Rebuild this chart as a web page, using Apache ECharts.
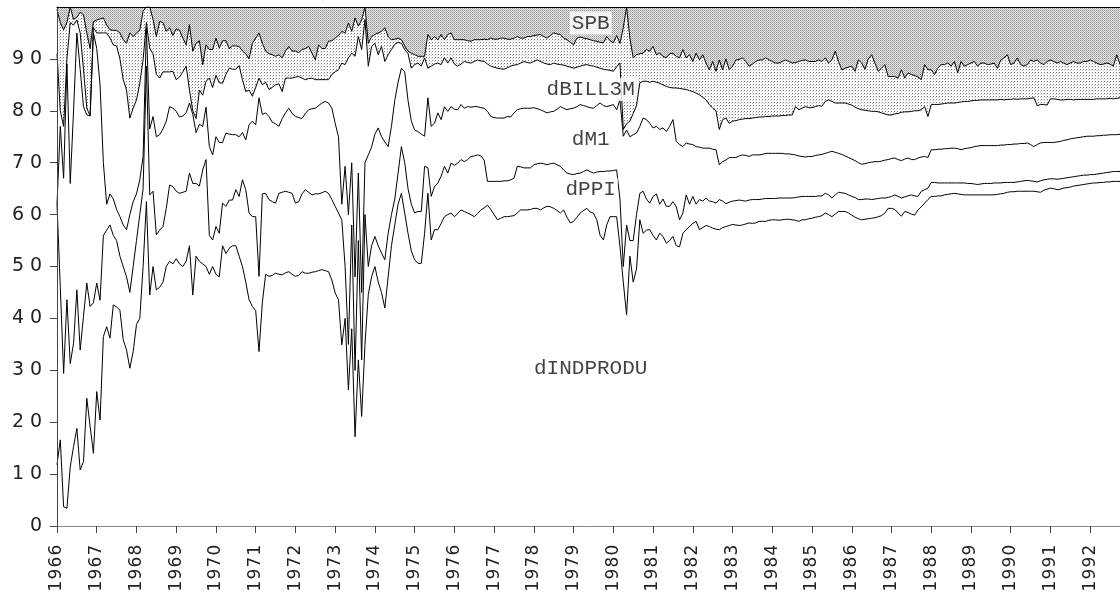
<!DOCTYPE html>
<html><head><meta charset="utf-8">
<script src="https://cdn.jsdelivr.net/npm/echarts@6/dist/echarts.min.js"></script>
<style>html,body{margin:0;padding:0;background:#fff}#c{width:1120px;height:599px}</style>
</head><body><div id="c"></div>
<script>
// Monthly observations, 1966m1 .. 1992m10 (cumulative shares, %)
const startYear = 1966;
const yTickLabels = [0,10,20,30,40,50,60,70,80,90];

const cumINDPRODU = [
11.8,16.6,3.7,3.4,11.4,15.3,18.8,10.8,12.4,24.6,19.2,14,
25.9,20.4,36.5,38.4,36.2,42.6,42.2,41.6,35.9,33.9,30.4,33.6,
38.8,40,50,62.5,44.5,50,45.5,46,47,50,51,50.5,
51.5,50.5,50,51,54,44.5,52,51,50.5,50,48.5,50,
48.5,48,54,52.5,53.5,54,54,52,50,47,43.6,42.3,
41.5,33.6,43,48.5,48.1,48.3,48.7,48.5,48.4,48.8,49,48.5,
48.1,48.3,49,48.7,48.7,48.9,49,49.2,49.4,49.2,49,47.4,
44.9,43.6,34.9,40,26.2,38,17.2,32,21.1,35,44.6,48,
50,47,45,42,48,54,58,62,64.1,60.3,56.4,53,
51.3,50.6,50.6,56.4,64.1,55.1,57.1,57.1,58.3,59.6,60,60.3,
59.6,60.2,60.9,60.6,60.3,60,59.6,60.2,60.9,61.3,61.8,61,
60,59,59.3,59.6,59.6,59.7,59.8,60.3,60.9,60.9,60.9,61,
61.2,61.2,60.9,61.3,61.6,61.5,61.2,60.8,60.3,60.9,59.5,58.4,
58.7,59.5,60.3,60.8,61.2,60.5,60.3,59,56,55.1,58,59.6,
59.6,59.6,53.9,47,40.7,52,47,49.5,59,56.4,57,57.1,
56,55.1,56.4,55.8,54.5,55,55.8,54,53.8,56.4,57.1,57.7,
58.3,58.7,57.1,57.5,57.9,57.7,57.4,57.2,57.1,57.5,57.7,57.9,
58.1,58,57.9,58,58.2,58.4,58.3,58.4,58.7,58.7,58.7,58.9,
59,59,58.9,59,59.1,59.1,59,58.9,58.7,59,59,59.2,
59.3,59.5,59.6,59.8,60.3,60,59.6,60.1,60.6,60.6,60.6,60.3,
59.9,59.5,59.2,59,59.1,59.2,59.3,59.4,59.6,59.8,60.3,61.2,
61.2,61,60.3,59.7,60.6,60.4,60.1,59.9,60.9,61.5,62.2,62.9,
63.5,63.5,63.6,63.6,63.8,63.9,64,64.1,64,63.9,63.8,63.8,
63.8,63.8,63.8,63.8,63.8,63.8,63.8,63.8,63.9,64,64.1,64.3,
64.4,64.4,64.5,64.5,64.5,64.5,64.5,64.5,64.4,64.3,64.7,64.9,
65.1,65,64.8,64.9,65.1,65.2,65.3,65.5,65.6,65.7,65.8,65.9,
66,66.1,66.1,66.2,66.2,66.3,66.3,66.4,66.4,66.4
];

const cumPPI = [
62,46,29.4,43.6,31.3,35.2,45.5,33.9,40.4,46.8,42.3,43,
46.8,43.5,56,57,58,56,55,52,50,48,45,50,
55,60,65,88.6,63.8,64.5,56.1,57,57.7,61.2,65.7,65.4,
64.5,64.1,64.3,64.5,68,66,66,65.5,68.6,70.6,56,55.1,
57.7,56.4,62.2,61.6,62.8,62.8,64.8,63.5,66.7,64.8,60.3,59.6,
59.6,48.1,64,64.1,62.9,62.5,62.2,64.1,64.3,64.5,64.3,64.1,
62.2,62.5,64,64.8,64.3,63.8,64,64,64.2,64.5,64.1,62.9,
61.6,60.3,59,50,35,58,30,55,32,60,50,54,
55.8,54,52.6,51.3,56.4,60,63,68,73.1,70,65,62,
60.3,60.6,60.6,69.3,69,63.5,65.4,66.1,67.4,69.3,68,69.9,
69.5,69.9,70.6,70.2,70.6,71.2,71.3,71.5,71.3,70.5,66.4,66.4,
66.4,66.4,66.4,66.5,66.5,66.7,67,69.3,69.2,69,69,69,
69.6,69.8,69.9,69.8,69.6,69.8,69.9,69.6,69.3,68.6,68,67.8,
67.7,67.9,68,68.3,68.6,68.3,68,68.2,68.3,68.3,68.4,68.4,
68.5,68.6,63,50,58,55,55,60,64.1,64.5,63,62.2,
63.5,64,62,63,61.6,61.6,62.5,61.5,59,60.3,63.8,62,
63.5,62,62.9,62.6,63.2,62.6,62.5,62.2,62.9,62.6,62.1,62.4,
62.6,62.7,62.8,62.7,62.6,62.8,62.9,62.9,62.9,63,63.1,63.1,
63.1,63.1,63.2,63.2,63.2,63.2,63.2,63.3,63.4,63.5,63.5,63.5,
63.5,63.5,63.6,63.6,64.1,63.8,63.2,63.8,64.3,64.2,64.1,63.8,
63.5,63.3,62.9,62.9,63,63,62.9,63,63.1,63.2,63.2,63.3,
63.5,63.8,63.5,63.2,63.4,63.6,63.8,63.6,63.5,64.5,64.8,65.1,
66.2,66.2,66.1,66.1,66.1,66.1,66.1,66.1,66.1,66.1,66.1,66,
66,65.9,65.8,65.9,66,66,66,66.1,66.1,66.1,66.2,66.2,
66.2,66.2,66.3,66.4,66.5,66.6,66.5,66.4,66.3,66.5,66.7,66.8,
66.9,66.9,66.8,66.9,67,67.1,67.2,67.3,67.4,67.5,67.6,67.6,
67.7,67.7,67.8,67.9,68,68.1,68.2,68.3,68.3,68.3
];

const cumM1 = [
62,77,67,89,66,80,95,88,80.8,79.2,79,95,
92,85,70,62,64,63,61,59.6,58,57.1,60,62.5,
64,66.7,71.2,96,76.5,78.9,75,75.4,76.5,78,80.8,80.5,
79.9,78.8,79,79.6,81.5,79.3,75.8,77.4,77,80.7,73.1,71.5,
75,73.9,73.9,75.7,75.5,75.4,75.4,75,75.8,74.4,77.3,78,
77.3,82.5,79.3,79.6,78.9,77.8,77.5,77,78.5,79.6,80.5,79.5,
78.9,78.7,78.5,79.5,80.2,80.4,80.5,81,81.5,81.8,81.5,80.5,
77.6,75,62,69.3,60,70,48,68,45,70,71.5,73,
75.5,76.7,75,74,73.1,77,82,85.5,88.2,87.5,82,78,
76.3,76,75.5,75.1,82.5,77,77.6,79.6,78.3,80.8,79.9,80.8,
80.3,80.2,81.2,80.5,80.8,80.7,80.8,80.8,80.6,80.5,79.9,78.9,
78.7,78.6,78.6,78.6,78.9,78.8,79.6,80.2,80.4,80.5,80.5,80.5,
80.6,80.4,80.2,79.9,79.6,79.8,79.9,80.3,80.8,80.5,80.2,80.4,
80.5,80.8,81.2,81,80.8,80.6,80.5,81,81.5,81,80.8,81,
81.2,80.2,82.1,75.1,76.3,75,75.4,75.7,77,78.6,78.3,77.6,
76.7,77,76.4,76.7,76,77,78.3,74.1,73.5,73.1,73.8,73.6,
73.5,73.1,73,72.8,72.8,72.8,72.6,72.5,69.6,70.2,70.5,71,
71,71,71.3,71.5,71.4,71.2,71.5,71.5,71.5,71.6,71.8,71.8,
71.8,71.8,71.8,71.8,71.7,71.7,71.6,71.5,71.3,71.2,71.1,71.2,
71.2,71.4,71.5,71.6,71.8,72,72.2,72,71.8,71.6,71.3,71,
70.7,70.4,70,69.7,69.8,70,70.1,70.2,70.2,70.3,70.5,70.6,
70.8,70.9,70.6,70.4,70.7,70.9,70.6,70.6,70.9,71.1,71.2,71,
72.5,72.5,72.6,72.6,72.7,72.7,72.8,72.8,72.7,72.5,72.7,72.8,
72.9,73.1,73.2,73.3,73.3,73.3,73.3,73.3,73.3,73.4,73.4,73.5,
73.5,73.6,73.6,73.7,73.7,73.8,73.5,73.1,73.5,73.8,73.9,73.9,
73.9,73.9,74,74.1,74.3,74.4,74.6,74.7,74.8,74.9,75,75.1,
75.1,75.1,75.2,75.2,75.3,75.3,75.4,75.4,75.4,75.5
];

const cumBILL3M = [
91,80,77,90,97,96.5,97.5,95,88,80.5,79,96,
95,95,95,95,94,92.7,92.5,90,86,84,78.6,80.5,
82.1,85.3,89.8,97,92,91,87,86.3,87.5,87.5,87.5,87.6,
86,86.5,87.5,88.6,84,80,78.5,84,83,85.7,86.3,84.5,
86.8,85.4,85.3,87,88.2,88,88,88.7,86,83.7,84,82.8,
84.5,86.3,85,85.5,84.1,84.5,85,85.2,83.7,86.3,86.3,86.3,
86.5,86.6,86.3,86,86.2,86.3,86,86,86,86,86,87,
87.5,87.9,89.2,88.9,90.2,91.1,90.5,94.3,91.8,97.6,88.6,92.4,
93,90.8,92.4,89.5,90.8,91.8,92.8,93.2,93,91.8,91,88.2,
88.9,89.2,88.6,90.2,88.2,88.6,89,89.2,88.9,90.2,89.2,90.2,
89,88.6,89,89.5,89.3,89.2,89.5,89.8,89.6,89.5,89,88.6,
88.4,88.2,88.1,88,88.3,88.6,88.8,88.9,89.2,89.5,89.3,89.2,
89.5,89.8,89.5,89.2,89,88.9,89.2,89,88.9,88.8,88.6,88.4,
88.2,88.4,88.6,88.8,88.9,88.7,88.6,88.4,88.2,88,87.9,87.8,
87.6,88.5,89.2,76.4,77.5,78,79.5,81,85.4,85.7,85.7,85.5,
85.7,85.5,85.3,85,84.7,84.5,84.4,84.4,84.3,84.2,84.1,83.9,
83.7,83.4,83.1,82.6,82.1,81.2,80.5,80,76.4,78.3,78.6,77.6,
78,78.1,78.3,78.4,78.5,78.5,78.6,78.7,78.8,78.8,78.9,78.9,
79,79,79,79.1,79.1,79.2,79.2,80.8,80.2,80.5,80.8,80.6,
80.6,80.8,81,80.9,81.8,82.1,81.8,81.5,81.5,81.5,81.5,81.3,
81.1,80.7,80.4,80.2,80.1,80,79.9,79.9,79.8,79.6,79.4,79.2,
79.2,79.4,79.5,79.7,79.8,79.8,79.9,80,80,80.2,80.8,78.9,
81.2,81.2,81.2,81.3,81.4,81.5,81.5,81.5,81.6,81.7,81.8,81.8,
81.9,82,82,82.1,82.1,82.1,82.1,82.1,82.1,82.2,82.1,82.2,
82.2,82.3,82.2,82.3,82.3,82.3,82.4,82.5,81,81.2,81.2,81.1,
82.3,82.3,82.2,82.1,82.1,82.2,82.2,82.1,82.2,82.2,82.2,82.2,
82.2,82.2,82.3,82.3,82.3,82.3,82.4,82.3,82.4,82.5
];

// upper edge of the un-named dotted band (below the SPB block)
const cumV5 = [
99.5,97,95.6,97,100,97.6,98,99,98.5,95,92,97.2,
97.5,97.7,97.9,96.5,95.6,95.5,95.5,95,93.7,93,95,94.3,
95,95.5,99.2,100,100,97.6,94.3,97.2,97,95.3,96,94.5,
95.8,95.5,94,92.7,96.6,91.5,93,93.5,88.9,92.7,91.8,91.8,
94,92.1,93.5,93.5,92,92.5,92.5,92.4,91.5,91,90,93,
94,95,93,91.5,91,90.8,90.5,90.8,90.2,91.5,92.4,91.5,
91.5,91.2,91.8,92,92.4,91.1,89.8,92.7,92,92,93.4,93.5,
94,94.5,95.3,95,96.9,95.3,97.9,96.3,97.5,100,93,94.3,
94.7,95,95.3,96,94.3,93.7,93.8,94,93.7,92.5,91.5,91.1,
90.8,90.5,90.5,90.5,94.7,93.7,94.3,93.7,94.7,93.7,94.7,95,
93.7,93.7,93.7,93.7,93.5,93.4,93.7,93.7,93.7,93.8,93.7,94,
93.8,93.8,94,94,93.8,93.8,94,94.3,94,94,94.3,94.3,
94.5,94.6,94.7,94.3,94,94.5,95,94.8,94.7,94,93.7,93.2,
92.7,94,94.2,94,93.9,93.7,93.5,93.4,93.2,93.1,94.3,93.5,
93.1,94.5,93,96,100,94,90.2,90.8,91,91.1,91.8,91.5,
92.4,90.8,91.1,90.5,90.2,91,91.1,90.5,90.2,91.8,90.2,90.8,
89.5,91.1,89.8,90.8,89.2,87.9,89.5,87.6,89.8,87.9,90,87.9,
88.6,89.8,89.9,90.2,89.5,88.6,89,89.5,89.8,89.8,90.2,89.8,
89.5,89.2,89.2,89.5,89.8,89.5,89.2,89.3,89.5,89.7,89.8,89.5,
89.5,89.5,89.8,89.5,90.2,89.2,89.8,91.5,89.5,87.9,88.2,88.4,
88.6,87.6,89.8,89.2,88,90,90.8,89.2,87.6,88.2,88.9,86.6,
86.6,86.6,86.3,87.9,86.3,87.3,87,86.8,86.5,86,88.9,87.9,
87.9,87,88.2,88.9,88.9,89.2,88.6,89.5,87.3,89.5,88.6,88.9,
89.2,89.5,88.6,89.2,89.2,88.9,89,89.2,88.2,89.8,90.2,90.8,
88.9,89.2,90.2,88.9,88.6,88.9,89.8,89.5,89.8,89.2,88.9,89.5,
89.8,89.5,89.2,89.5,89.2,88.9,89.2,89.5,89.2,89.2,89.5,89.5,
89.8,89.5,89.2,88.9,89,89.2,89,88.6,90.8,88.9
];

const labelNames  = ['SPB', 'dBILL3M', 'dM1', 'dPPI', 'dINDPRODU'];
const labelLevels = [96.9, 84.1, 74.4, 64.8, 30.3];
const labelYear   = 1979.43;

const all = [cumINDPRODU, cumPPI, cumM1, cumBILL3M, cumV5];
const n = cumINDPRODU.length;
all.forEach((a, k) => { if (a.length !== n) throw new Error('length mismatch ' + k + ': ' + a.length + ' vs ' + n); });
const months = Array.from({length: n}, (_, i) => startYear + i / 12);
const pairs = arr => arr.map((v, i) => [months[i], v]);
const total = cumINDPRODU.map(() => 100);

function pattern(size, bg, dots) {
  const c = document.createElement('canvas');
  c.width = size; c.height = size;
  const g = c.getContext('2d');
  g.fillStyle = bg; g.fillRect(0, 0, size, size);
  dots.forEach(([x, y, col]) => { g.fillStyle = col; g.fillRect(x, y, 1, 1); });
  return { image: c, repeat: 'repeat' };
}
const densePat = pattern(2, '#e8e8e8', [[0, 0, '#959595'], [1, 1, '#b0b0b0']]);
const lightPat = pattern(3, '#ffffff', [[0, 0, '#7a7a7a'], [2, 1, '#d0d0d0']]);

function areaS(data, fill) {
  return { type: 'line', data: pairs(data), symbol: 'none', silent: true, animation: false,
    lineStyle: { opacity: 0, width: 0 }, areaStyle: { color: fill, opacity: 1 }, z: 1 };
}
function lineS(name, data) {
  return { type: 'line', name, data: pairs(data), symbol: 'none', silent: true, animation: false,
    lineStyle: { color: '#000', width: 1 }, z: 3 };
}
const charRich = (w, size) => ({ d: { width: w, align: 'center', fontSize: size, fontFamily: 'DejaVu Sans', color: '#222' } });
const spaced = s => String(s).split('').map(c => '{d|' + c + '}').join('');

const chart = echarts.init(document.getElementById('c'), null, { renderer: 'canvas' });
chart.setOption({
  backgroundColor: '#fff',
  animation: false,
  grid: { left: 57, right: 0, top: 7, bottom: 73 },
  xAxis: [{
    type: 'value', min: startYear, max: months[n - 1], interval: 1, z: 10,
    axisLine: { show: true, onZero: false, lineStyle: { color: '#888', width: 1 } },
    axisTick: { show: true, length: 7, lineStyle: { color: '#444' } },
    splitLine: { show: false },
    axisLabel: { rotate: 90, margin: 18, showMaxLabel: false,
      formatter: v => Math.abs(v - Math.round(v)) < 1e-6 ? spaced(Math.round(v)) : '',
      rich: charRich(12, 17) }
  }, {
    type: 'value', position: 'top', min: startYear, max: months[n - 1], z: 10,
    axisLine: { show: true, onZero: false, lineStyle: { color: '#000', width: 1 } },
    axisTick: { show: false }, axisLabel: { show: false }, splitLine: { show: false }
  }],
  yAxis: {
    type: 'value', min: 0, max: 100, interval: 10, z: 10,
    axisLine: { show: true, onZero: false, lineStyle: { color: '#444', width: 1 } },
    axisTick: { show: true, length: 7, lineStyle: { color: '#444' } },
    splitLine: { show: false },
    axisLabel: { margin: 12, showMaxLabel: false,
      formatter: v => yTickLabels.includes(v) ? spaced(v) : '',
      rich: charRich(18, 19) }
  },
  series: [
    areaS(total, densePat),
    areaS(cumV5, lightPat),
    areaS(cumBILL3M, '#fff'),
    areaS(cumM1, '#fff'),
    areaS(cumPPI, '#fff'),
    areaS(cumINDPRODU, '#fff'),
    lineS('cumV5', cumV5),
    lineS('dBILL3M', cumBILL3M),
    lineS('dM1', cumM1),
    lineS('dPPI', cumPPI),
    lineS('dINDPRODU', cumINDPRODU),
    { type: 'scatter', silent: true, animation: false, symbol: 'circle', symbolSize: 1,
      itemStyle: { color: 'rgba(255,255,255,0)' }, z: 5,
      data: labelNames.map((t, i) => ({ name: t, value: [labelYear, labelLevels[i]] })),
      label: { show: true, position: 'inside', formatter: '{b}', fontFamily: 'Liberation Mono',
        fontSize: 21, color: '#111', backgroundColor: '#fff', padding: [2, 2, 0, 2] } }
  ]
});
</script></body></html>
